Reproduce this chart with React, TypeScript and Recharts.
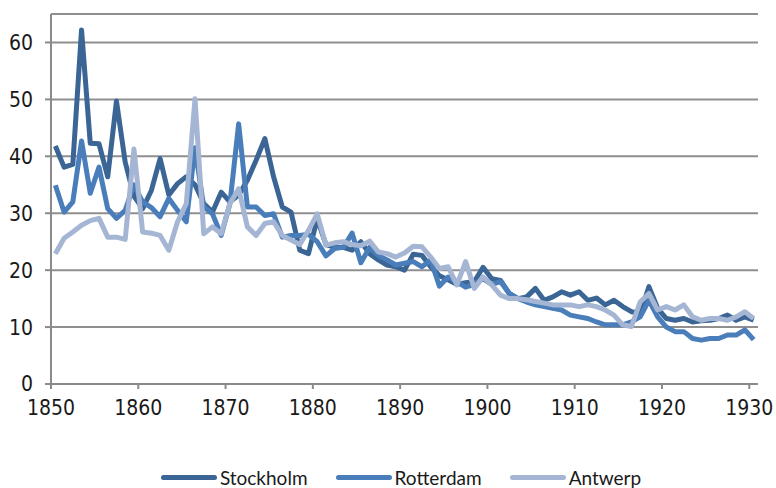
import { LineChart, Line, XAxis, YAxis, CartesianGrid, Legend } from "recharts";

// annual values, 1850 to 1930
const firstYear = 1850;

const stockholm = [
  41.8, 38.1, 38.6, 62.2, 42.3, 42.2, 36.4, 49.7, 39.0, 33.0,
  30.8, 34.0, 39.6, 33.2, 35.2, 36.4, 35.0, 31.7, 30.2, 33.7,
  32.0, 33.2, 35.8, 39.3, 43.1, 36.4, 31.1, 30.2, 23.5, 22.9,
  29.0, 24.5, 24.0, 24.0, 23.5, 25.0, 22.9, 21.8, 20.9, 20.6,
  20.0, 22.8, 22.6, 20.6, 19.0, 18.3, 17.5, 17.8, 18.0, 20.5,
  18.5, 18.2, 15.9, 15.0, 15.3, 16.8, 14.7, 15.3, 16.2, 15.6,
  16.2, 14.7, 15.1, 13.9, 14.7, 13.6, 12.7, 12.4, 17.1, 13.3,
  11.5, 11.2, 11.5, 10.9, 11.1, 11.2, 11.5, 12.1, 11.2, 11.8,
  11.2,
];

const rotterdam = [
  34.9, 30.2, 32.0, 42.7, 33.5, 38.1, 30.8, 29.1, 30.5, 35.0,
  32.0, 31.0, 29.4, 32.6, 30.5, 28.5, 41.5, 31.1, 29.9, 26.1,
  31.7, 45.7, 31.1, 31.1, 29.6, 29.9, 25.8, 26.1, 26.1, 26.3,
  25.0, 22.5, 23.8, 24.0, 26.5, 21.3, 24.0, 22.6, 21.8, 20.9,
  21.2, 21.5, 20.6, 21.8, 17.2, 18.8, 18.0, 17.0, 17.5, 18.5,
  17.5, 18.0, 15.9, 15.0, 14.4, 13.9, 13.6, 13.3, 13.0, 12.1,
  11.8, 11.5, 10.9, 10.4, 10.4, 10.4, 10.9, 11.8, 14.7, 11.8,
  10.0, 9.2, 9.2, 8.0, 7.7, 8.0, 8.0, 8.6, 8.6, 9.5,
  7.8,
];

const antwerp = [
  22.9, 25.6, 26.7, 27.9, 28.7, 29.1, 25.8, 25.8, 25.4, 41.3,
  26.7, 26.5, 26.1, 23.5, 28.5, 31.7, 50.1, 26.4, 27.6, 26.4,
  31.7, 34.3, 27.6, 26.1, 28.2, 28.5, 26.1, 25.3, 24.5, 27.0,
  29.9, 24.4, 24.8, 25.0, 24.5, 24.3, 25.1, 23.2, 22.9, 22.3,
  23.0, 24.2, 24.1, 22.3, 20.3, 20.6, 17.4, 21.5, 16.8, 18.8,
  17.4, 15.6, 15.0, 15.0, 14.8, 14.5, 14.2, 13.9, 13.9, 13.9,
  13.6, 13.9, 13.6, 13.0, 12.1, 10.4, 10.1, 14.4, 15.9, 13.0,
  13.6, 13.0, 13.9, 11.8, 11.2, 11.5, 11.5, 11.2, 11.8, 12.7,
  11.5,
];

const xTicks = [1850, 1860, 1870, 1880, 1890, 1900, 1910, 1920, 1930];
const yTicks = [0, 10, 20, 30, 40, 50, 60];

const series = [
  { key: "stockholm", name: "Stockholm", color: "#3a6594" },
  { key: "rotterdam", name: "Rotterdam", color: "#4a7ebb" },
  { key: "antwerp", name: "Antwerp", color: "#a5b6d4" },
];

// each yearly value sits in the middle of its year
const data = stockholm.map((v, i) => ({
  x: firstYear + i + 0.5,
  stockholm: v,
  rotterdam: rotterdam[i],
  antwerp: antwerp[i],
}));

const tickFont = {
  fontFamily: '"Liberation Sans Narrow", "DejaVu Sans Condensed", sans-serif',
  fontSize: 21,
  fill: "#1a1a1a",
};

function renderLegend() {
  return (
    <div
      style={{
        display: "flex",
        justifyContent: "center",
        alignItems: "center",
        paddingTop: 52,
        paddingLeft: 72,
        height: 22,
        fontFamily: "Lato, sans-serif",
        fontSize: 19,
        color: "#1a1a1a",
      }}
    >
      {series.map((s) => (
        <div
          key={s.key}
          style={{ display: "flex", alignItems: "center", marginRight: 28 }}
        >
          <div
            style={{
              width: 56,
              height: 5,
              borderRadius: 3,
              background: s.color,
              marginRight: 3,
            }}
          />
          <span>{s.name}</span>
        </div>
      ))}
    </div>
  );
}

export default function App() {
  return (
    <div style={{ position: "absolute", left: 0, top: 0, background: "#fff" }}>
      <LineChart
        width={776}
        height={488}
        data={data}
        margin={{ top: 14, right: 18, left: 0, bottom: 0 }}
      >
        <CartesianGrid
          horizontal={true}
          vertical={false}
          stroke="#8f8f8f"
          strokeWidth={2}
        />
        <XAxis
          dataKey="x"
          type="number"
          domain={[1850, 1931]}
          ticks={xTicks}
          height={30}
          tick={tickFont}
          tickSize={5}
          tickMargin={11}
          stroke="#8a8a8a"
          strokeWidth={2}
          interval={0}
        />
        <YAxis
          domain={[0, 65]}
          ticks={yTicks}
          width={51}
          tick={tickFont}
          tickSize={6}
          tickMargin={12}
          stroke="#8a8a8a"
          strokeWidth={2}
          interval={0}
        />
        <Legend verticalAlign="bottom" height={74} content={renderLegend} />
        {series.map((s) => (
          <Line
            key={s.key}
            type="linear"
            dataKey={s.key}
            name={s.name}
            stroke={s.color}
            strokeWidth={5}
            strokeLinejoin="round"
            dot={false}
            isAnimationActive={false}
          />
        ))}
      </LineChart>
    </div>
  );
}
